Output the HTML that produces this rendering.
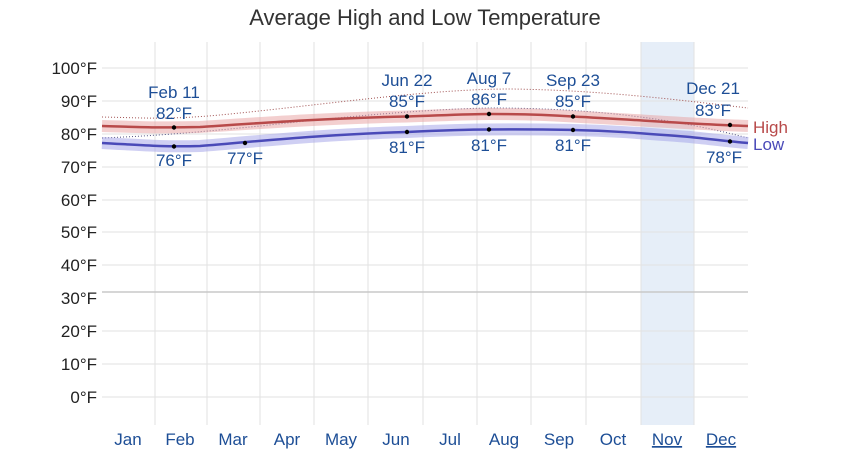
<!DOCTYPE html>
<html><head><meta charset="utf-8"><style>
body{margin:0;background:#fff;}
svg{display:block;font-family:"Liberation Sans",sans-serif;}
</style></head><body>
<svg width="850" height="452" viewBox="0 0 850 452">
<rect width="850" height="452" fill="#fff"/>
<text x="425" y="25" text-anchor="middle" font-size="22" fill="#333">Average High and Low Temperature</text>
<rect x="641" y="42" width="53" height="383" fill="#e6eef8"/>
<g stroke="#e2e2e2" stroke-width="1">
<line x1="102" y1="68" x2="748" y2="68"/><line x1="102" y1="101" x2="748" y2="101"/>
<line x1="102" y1="134" x2="748" y2="134"/><line x1="102" y1="167" x2="748" y2="167"/>
<line x1="102" y1="200" x2="748" y2="200"/><line x1="102" y1="232" x2="748" y2="232"/>
<line x1="102" y1="265" x2="748" y2="265"/><line x1="102" y1="331" x2="748" y2="331"/>
<line x1="102" y1="364" x2="748" y2="364"/><line x1="102" y1="397" x2="748" y2="397"/>
<line x1="155" y1="42" x2="155" y2="425"/><line x1="207" y1="42" x2="207" y2="425"/>
<line x1="260" y1="42" x2="260" y2="425"/><line x1="314" y1="42" x2="314" y2="425"/>
<line x1="368" y1="42" x2="368" y2="425"/><line x1="423" y1="42" x2="423" y2="425"/>
<line x1="477" y1="42" x2="477" y2="425"/><line x1="531" y1="42" x2="531" y2="425"/>
<line x1="586" y1="42" x2="586" y2="425"/><line x1="641" y1="42" x2="641" y2="425"/>
<line x1="694" y1="42" x2="694" y2="425"/>
</g>
<line x1="102" y1="292" x2="748" y2="292" stroke="#c8c8c8" stroke-width="1.5"/>
<g font-size="17" fill="#222" text-anchor="end">
<text x="97" y="74">100°F</text><text x="97" y="107">90°F</text><text x="97" y="140">80°F</text>
<text x="97" y="173">70°F</text><text x="97" y="206">60°F</text><text x="97" y="238">50°F</text>
<text x="97" y="271">40°F</text><text x="97" y="304">30°F</text><text x="97" y="337">20°F</text>
<text x="97" y="370">10°F</text><text x="97" y="403">0°F</text>
</g>
<path d="M102,117 C150,118 170,120 230,114 C330,104 430,89 510,89 C600,90 680,100 748,108" fill="none" stroke="#a05050" stroke-width="1" stroke-dasharray="1,2"/>
<path d="M102,138 C150,136 180,134 260,126 C350,116 430,109 490,108 C600,108 680,120 748,138" fill="none" stroke="#505080" stroke-width="1" stroke-dasharray="1,2"/>
<path d="M102,126 C140,127 160,128 200,127 C260,123 330,118 407,116.5 C450,115 470,114 489,114 C530,114 550,115 573,116.5 C640,120 690,124 748,126" fill="none" stroke="#e8a0a0" stroke-opacity="0.5" stroke-width="12"/>
<path d="M102,126 C140,127 160,128 200,127 C260,123 330,118 407,116.5 C450,115 470,114 489,114 C530,114 550,115 573,116.5 C640,120 690,124 748,126" fill="none" stroke="#b84a4a" stroke-width="2.5"/>
<path d="M102,143 C140,145 160,147 200,146 C260,141 330,134 407,132 C450,130 470,129.5 489,129.5 C530,129 550,129.5 573,130 C620,131 650,134 690,137 C710,139 730,141.5 748,143" fill="none" stroke="#a0a0e8" stroke-opacity="0.5" stroke-width="12"/>
<path d="M102,143 C140,145 160,147 200,146 C260,141 330,134 407,132 C450,130 470,129.5 489,129.5 C530,129 550,129.5 573,130 C620,131 650,134 690,137 C710,139 730,141.5 748,143" fill="none" stroke="#4a4ab8" stroke-width="2.5"/>
<g fill="#000">
<circle cx="174" cy="127.5" r="2.2"/><circle cx="407" cy="116.5" r="2.2"/><circle cx="489" cy="114" r="2.2"/>
<circle cx="573" cy="116.5" r="2.2"/><circle cx="730" cy="125" r="2.2"/>
<circle cx="174" cy="146.5" r="2.2"/><circle cx="245" cy="143" r="2.2"/><circle cx="407" cy="132" r="2.2"/>
<circle cx="489" cy="129.5" r="2.2"/><circle cx="573" cy="130" r="2.2"/><circle cx="730" cy="141.5" r="2.2"/>
</g>
<g font-size="17" fill="#1d4e96" text-anchor="middle">
<text x="174" y="98">Feb 11</text><text x="174" y="119">82°F</text>
<text x="407" y="86">Jun 22</text><text x="407" y="107">85°F</text>
<text x="489" y="84">Aug 7</text><text x="489" y="105">86°F</text>
<text x="573" y="86">Sep 23</text><text x="573" y="107">85°F</text>
<text x="713" y="94">Dec 21</text><text x="713" y="116">83°F</text>
<text x="174" y="166">76°F</text><text x="245" y="164">77°F</text>
<text x="407" y="153">81°F</text><text x="489" y="151">81°F</text><text x="573" y="151">81°F</text>
<text x="724" y="163">78°F</text>
</g>
<text x="753" y="133" font-size="17" fill="#b84a4a">High</text>
<text x="753" y="150" font-size="17" fill="#4a4ab8">Low</text>
<g font-size="17" fill="#1d4e96" text-anchor="middle">
<text x="128" y="445">Jan</text><text x="180" y="445">Feb</text><text x="233" y="445">Mar</text>
<text x="287" y="445">Apr</text><text x="341" y="445">May</text><text x="396" y="445">Jun</text>
<text x="450" y="445">Jul</text><text x="504" y="445">Aug</text><text x="559" y="445">Sep</text>
<text x="613" y="445">Oct</text><text x="667" y="445" text-decoration="underline">Nov</text>
<text x="721" y="445" text-decoration="underline">Dec</text>
</g>
</svg>
</body></html>
